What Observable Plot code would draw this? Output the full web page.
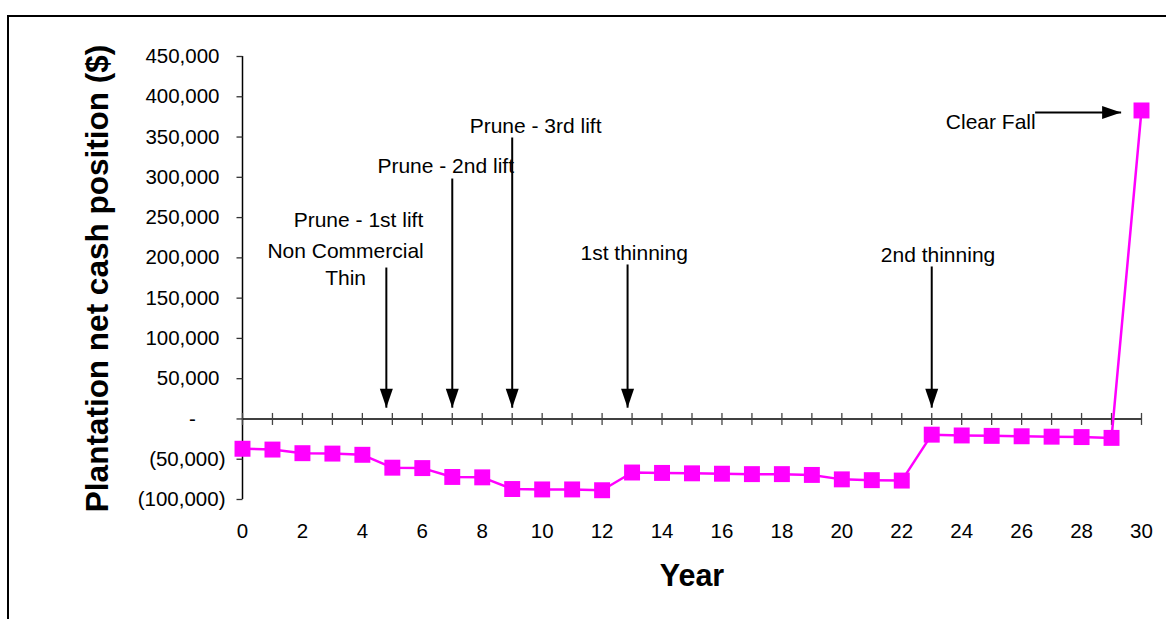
<!DOCTYPE html>
<html><head><meta charset="utf-8">
<script src="https://cdn.jsdelivr.net/npm/d3@7"></script>
<script src="https://cdn.jsdelivr.net/npm/@observablehq/plot@0.6"></script>
<style>
body{margin:0;background:#fff;}
#wrap{position:relative;width:1166px;height:619px;overflow:hidden;font-family:"Liberation Sans",Arial,sans-serif;}
#wrap svg{position:absolute;left:0;top:0;}
#frame{position:absolute;left:7px;top:15px;width:1300px;height:800px;border-left:2px solid #000;border-top:2px solid #000;pointer-events:none;}
</style></head><body><div id="wrap"><div id="frame"></div></div>
<script>
// Years and plantation net cash position ($)
const years = [0,1,2,3,4,5,6,7,8,9,10,11,12,13,14,15,16,17,18,19,20,21,22,23,24,25,26,27,28,29,30];
const netCash = [-37000,-38000,-42500,-43000,-44500,-60500,-61000,-72000,-72500,-87000,-87500,-87500,-88500,
  -66500,-67000,-67500,-68000,-68500,-68500,-69500,-75000,-76000,-76500,
  -19500,-20500,-21000,-21500,-22000,-22500,-23500,383000];

// Axis ticks
const yTicks = [-100000,-50000,0,50000,100000,150000,200000,250000,300000,350000,400000,450000];
const xTickLabels = [0,2,4,6,8,10,12,14,16,18,20,22,24,26,28,30];

// Operation annotations (vertical arrows pointing at the year axis)
const arrowYears = [4.8, 7, 9, 12.85, 23];
const arrowTops = [188000, 298500, 349500, 191800, 189300];
const arrowTip = 14000;

// Clear fall (horizontal arrow)
const clearFallFrom = 26.45;
const clearFallTo = 29.32;
const clearFallValue = 380500;

// Annotation texts
const labels = ["Prune - 3rd lift","Prune - 2nd lift","Prune - 1st lift","Non Commercial\nThin","1st thinning","2nd thinning","Clear Fall"];
const labelYears = [9.78, 6.78, 3.87, 3.44, 13.07, 23.21, 24.97];
const labelValues = [365600, 315900, 248900, 193600, 207900, 205400, 370500];

const series = years.map((y, i) => ({year: y, value: netCash[i]}));
const arrows = arrowYears.map((y, i) => ({year: y, top: arrowTops[i], tip: arrowTip}));
const notes = labels.map((t, i) => ({text: t, year: labelYears[i], value: labelValues[i]}));
const clearFall = [{x1: clearFallFrom, x2: clearFallTo, y: clearFallValue}];

const fmt = d3.format(",");
const magenta = "#FF00FF";
const head = {draw(c){ c.moveTo(0,0); c.lineTo(-6.5,-19); c.lineTo(6.5,-19); c.closePath(); }};
const vTick = {draw(c){ c.moveTo(0,-6); c.lineTo(0,6); }};
const hTick = {draw(c){ c.moveTo(-6,0); c.lineTo(0,0); }};

const chart = Plot.plot({
  width: 1166, height: 619,
  marginLeft: 242, marginRight: 25, marginTop: 56, marginBottom: 120,
  x: {domain: [0, 30], axis: null},
  y: {domain: [-100000, 450000], axis: null},
  style: {fontFamily: '"Liberation Sans", Arial, sans-serif', background: "transparent", color: "#000", overflow: "visible"},
  marks: [
    // axes lines
    Plot.ruleX([0], {stroke: "#000", strokeWidth: 1.5}),
    Plot.ruleY([0], {stroke: "#000", strokeWidth: 1.5}),
    // y ticks
    Plot.dot(yTicks, {y: d => d, frameAnchor: "left", symbol: hTick, stroke: "#333", strokeWidth: 1.3, fill: "none"}),
    // x ticks crossing the zero line
    Plot.dot(years, {x: d => d, y: () => 0, symbol: vTick, stroke: "#444", strokeWidth: 1.3, fill: "none"}),
    // y tick labels (accounting style)
    Plot.text(yTicks.filter(d => d > 0), {y: d => d, frameAnchor: "left", textAnchor: "end", lineAnchor: "middle", dx: -23, text: d => fmt(d), fontSize: 20.5, fill: "#000"}),
    Plot.text(yTicks.filter(d => d < 0), {y: d => d, frameAnchor: "left", textAnchor: "end", lineAnchor: "middle", dx: -17, text: d => "(" + fmt(-d) + ")", fontSize: 20.5, fill: "#000"}),
    Plot.text(yTicks.filter(d => d === 0), {y: d => d, frameAnchor: "left", textAnchor: "middle", lineAnchor: "middle", dx: -50, text: () => "-", fontSize: 20.5, fill: "#000"}),
    // x tick labels
    Plot.text(xTickLabels, {x: d => d, frameAnchor: "bottom", lineAnchor: "middle", dy: 32, text: d => String(d), fontSize: 20.5, fill: "#000"}),
    // axis titles
    Plot.text(["Year"], {frameAnchor: "bottom", lineAnchor: "middle", textAnchor: "middle", dy: 77, fontSize: 30.5, fontWeight: "bold", fill: "#000"}),
    Plot.text(["Plantation net cash position ($)"], {frameAnchor: "left", textAnchor: "middle", lineAnchor: "middle", dx: -145, dy: 0.5, rotate: -90, fontSize: 31.5, fontWeight: "bold", fill: "#000"}),
    // annotation arrows
    Plot.link(arrows, {x1: "year", x2: "year", y1: "top", y2: "tip", stroke: "#000", strokeWidth: 2}),
    Plot.dot(arrows, {x: "year", y: "tip", symbol: head, fill: "#000", stroke: "none"}),
    Plot.link(clearFall, {x1: "x1", x2: "x2", y1: "y", y2: "y", stroke: "#000", strokeWidth: 2}),
    Plot.dot(clearFall, {x: "x2", y: "y", symbol: head, rotate: -90, fill: "#000", stroke: "none"}),
    // annotation labels
    Plot.text(notes, {x: "year", y: "value", text: "text", fontSize: 21, lineHeight: 1.29, fill: "#000"}),
    // data series
    Plot.line(series, {x: "year", y: "value", stroke: magenta, strokeWidth: 2.5}),
    Plot.dot(series, {x: "year", y: "value", symbol: "square", r: 9, fill: magenta, stroke: "none"})
  ]
});
document.getElementById("wrap").insertBefore(chart, document.getElementById("frame"));
</script>
</body></html>
